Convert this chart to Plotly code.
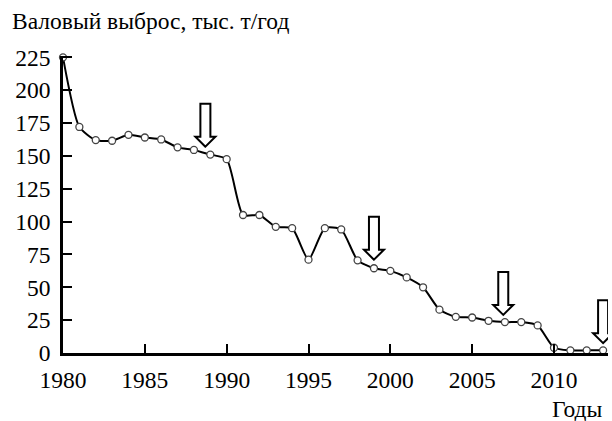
import plotly.graph_objects as go

years = list(range(1980, 2014))
emissions = [225, 172, 162, 161.5, 166, 164, 162.5, 156.5, 154.5, 151, 147.5,
             105, 105, 96, 95, 71, 95, 94, 70.5, 64.5, 62.5, 57.5, 50, 33,
             27.5, 27, 24.5, 23.5, 23.5, 21, 4, 2, 2, 2]
arrow_years = [1988.7, 1999.0, 2006.9, 2013.0]
arrow_tips = [157, 71, 29, 7.5]
y_ticks = [0, 25, 50, 75, 100, 125, 150, 175, 200, 225]
x_ticks = [1980, 1985, 1990, 1995, 2000, 2005, 2010]
y_title = "Валовый выброс, тыс. т/год"
x_title = "Годы"

FONT = "Times New Roman, Liberation Serif, serif"
FS = 23.5

fig = go.Figure()
fig.add_trace(go.Scatter(
    x=years, y=emissions, mode="lines+markers",
    line=dict(color="black", width=2, shape="spline", smoothing=0.6),
    marker=dict(size=7, color="white", line=dict(color="#444", width=1.3)),
    cliponaxis=False, showlegend=False,
))

arrow_path = "M0,0 L-10,10 L-5,10 L-5,43 L5,43 L5,10 L10,10 Z"
for ax_, ay_ in zip(arrow_years, arrow_tips):
    fig.add_shape(type="path", xref="x", yref="y",
                  xsizemode="pixel", ysizemode="pixel",
                  xanchor=ax_, yanchor=ay_, path=arrow_path,
                  line=dict(color="black", width=2), fillcolor="white",
                  layer="above")

fig.add_annotation(x=-0.097, y=1.118, xref="paper", yref="paper", text=y_title,
                   xanchor="left", yanchor="middle", showarrow=False,
                   font=dict(family=FONT, size=FS, color="black"))
fig.add_annotation(x=0.994, y=-0.19, xref="paper", yref="paper", text=x_title,
                   xanchor="right", yanchor="middle", showarrow=False,
                   font=dict(family=FONT, size=FS, color="black"))

fig.update_layout(
    width=612, height=421,
    margin=dict(l=63, r=4, t=56, b=68),
    paper_bgcolor="white", plot_bgcolor="white",
    font=dict(family=FONT, size=FS, color="black"),
)
fig.update_xaxes(range=[1980, 2013.3], tickvals=x_ticks, ticks="inside",
                 ticklen=9, tickwidth=2, tickcolor="black", showline=True,
                 linewidth=2.5, linecolor="black", showgrid=False,
                 zeroline=False, ticklabelstandoff=4,
                 tickfont=dict(family=FONT, size=FS))
fig.update_yaxes(range=[0, 226], tickvals=y_ticks, ticks="inside",
                 ticklen=9, tickwidth=2, tickcolor="black", showline=True,
                 linewidth=2.5, linecolor="black", showgrid=False,
                 zeroline=False, ticklabelstandoff=5,
                 tickfont=dict(family=FONT, size=FS))

fig.write_html("out.html", config={"displayModeBar": False},
               post_script="document.body.style.margin='0';document.body.style.overflow='hidden';")
